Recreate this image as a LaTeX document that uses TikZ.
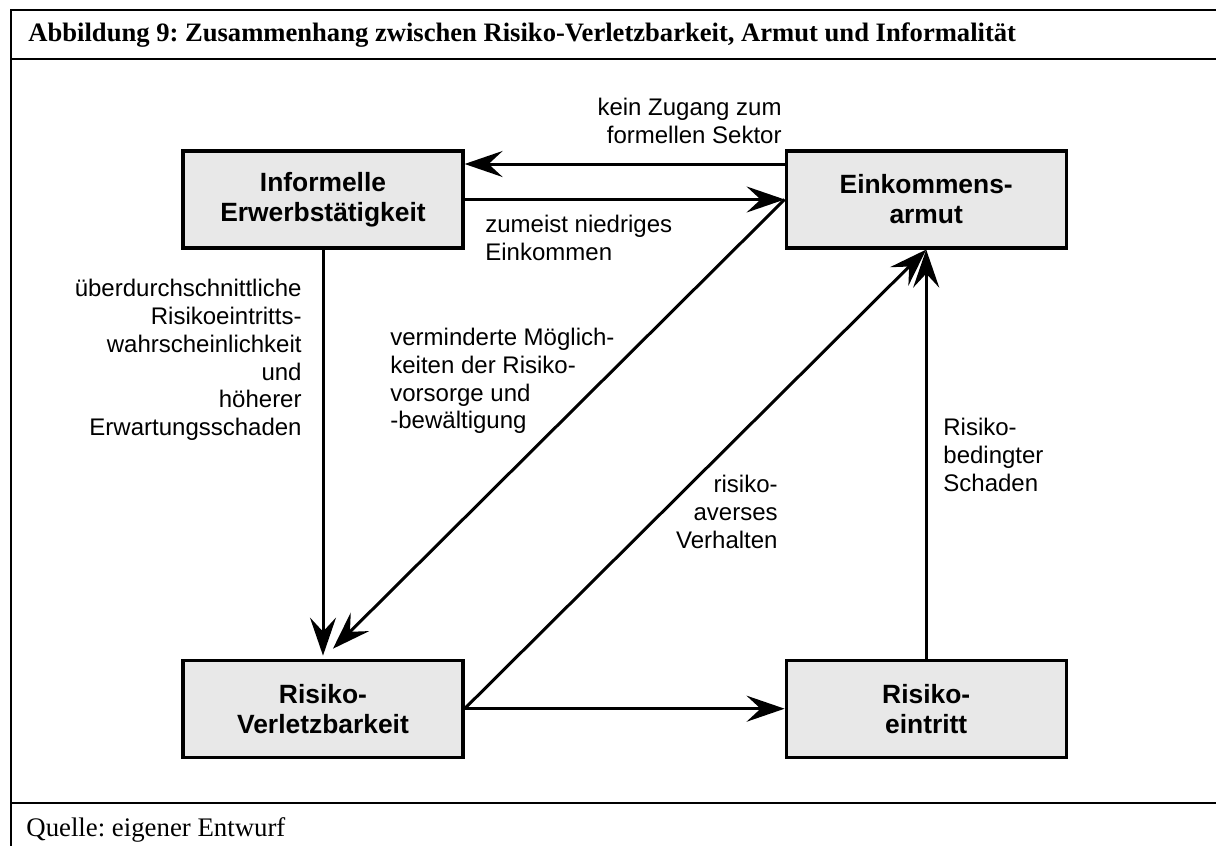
\documentclass[tikz,border=0pt]{standalone}
\usepackage{fontspec}
\setmainfont{Liberation Serif}
\newfontfamily\arialfont{Liberation Sans}
\usepackage{xcolor}
\usetikzlibrary{arrows.meta, positioning}

\definecolor{boxgray}{HTML}{E8E8E8}
\frenchspacing

\begin{document}
\begin{tikzpicture}[
    x=0.5pt, y=-0.5pt,
    node distance=160pt,
    box/.style={draw, line width=1.6pt, fill=boxgray, minimum width=140pt, minimum height=48.5pt, align=center, font=\arialfont\bfseries\fontsize{13.2}{15}\selectfont},
    arrow/.style={-{Stealth[length=19pt, width=13pt, inset=7pt]}, line width=1.5pt},
    lbl/.style={inner sep=0pt, font=\arialfont\fontsize{12}{13.85}\selectfont}
]
\useasboundingbox (0,0) rectangle (1216,846);

% frame
\draw[line width=1pt] (11,860) -- (11,10) -- (1225,10);
\draw[line width=1pt] (11,59) -- (1225,59);
\draw[line width=1pt] (11,803) -- (1225,803);
\node[anchor=west, inner sep=0pt, font=\bfseries\fontsize{13.3}{15}\selectfont] (titel) at (28,35) {Abbildung 9: Zusammenhang zwischen Risiko-Verletzbarkeit, Armut und Informalität};
\node[anchor=west, inner sep=0pt, font=\fontsize{13.4}{15}\selectfont] (quelle) at (26,830) {Quelle: eigener Entwurf};

% boxes
\node[box] (inf) at (323,199.5) {Informelle\\Erwerbstätigkeit};
\node[box, right=of inf] (eink) {Einkommens-\\armut};
\node[box, below=204.5pt of inf] (verl) {Risiko-\\Verletzbarkeit};
\node[box, below=204.5pt of eink] (eintr) {Risiko-\\eintritt};

% connectors
\draw[arrow] ([yshift=17.75pt]eink.west) -- ([yshift=17.75pt]inf.east);
\draw[arrow] (inf.east) -- (eink.west);
\draw[arrow, shorten >=1.5pt] (inf.south) -- (verl.north);
\draw[arrow, shorten >=7pt] (eink.west) -- (verl.north);
\draw[arrow] (verl.east) -- (eink.south);
\draw[arrow] (verl.east) -- (eintr.west);
\draw[arrow] (eintr.north) -- (eink.south);

% labels
\node[lbl, anchor=east, align=right] (zugang) at (782,121) {kein Zugang zum\\formellen Sektor};
\node[lbl, anchor=west, align=left] (niedrig) at (485,238) {zumeist niedriges\\Einkommen};
\node[lbl, anchor=east, align=right] (risiko) at (302,360) {überdurchschnittliche\\Risikoeintritts-\\wahrscheinlichkeit\\und\\höherer\\Erwartungsschaden};
\node[lbl, anchor=west, align=left] (vorsorge) at (390,381) {verminderte Möglich-\\keiten der Risiko-\\vorsorge und\\-bewältigung};
\node[lbl, anchor=east, align=right] (avers) at (778,512) {risiko-\\averses\\Verhalten};
\node[lbl, anchor=west, align=left] (schaden) at (943,455) {Risiko-\\bedingter\\Schaden};

\end{tikzpicture}
\end{document}
